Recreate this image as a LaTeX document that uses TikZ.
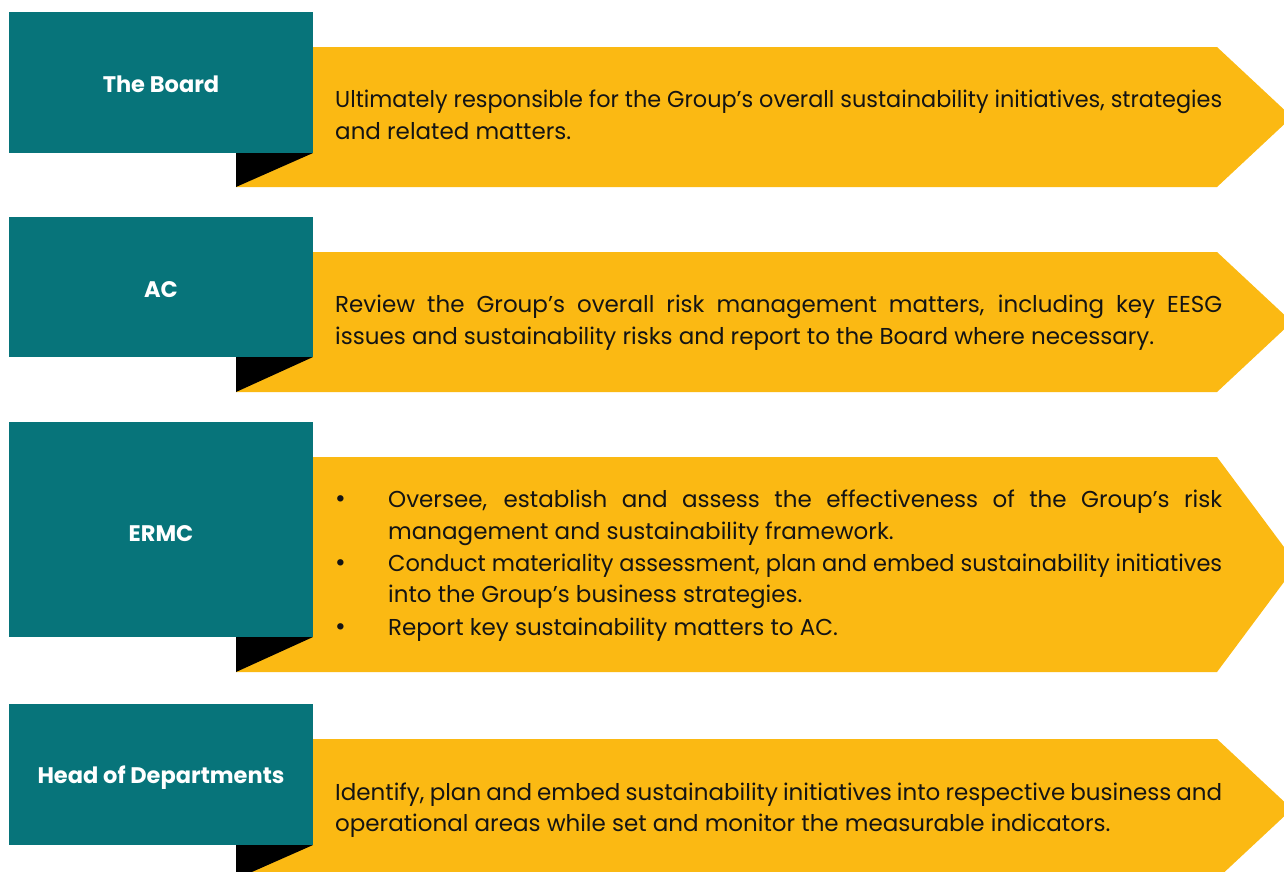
\documentclass[tikz,border=0pt]{standalone}
\usepackage{graphicx}
\usepackage{fontspec}
\setmainfont{Poppins}
\definecolor{teal1}{HTML}{07747A}
\definecolor{gold1}{HTML}{FBB913}
\definecolor{ink}{HTML}{141414}
\begin{document}
\begin{tikzpicture}[x=1pt,y=-1pt,
  headbox/.style={fill=teal1, draw=none, inner sep=0pt, minimum width=304pt},
  headtext/.style={anchor=base, inner sep=0pt, text=white, font=\bfseries\fontsize{22.5}{26}\selectfont},
  body/.style={anchor=base west, inner sep=0pt, text=ink, font=\fontsize{23}{32}\selectfont},
  bullet/.style={anchor=base west, inner sep=0pt, text=ink, font=\fontsize{26}{32}\selectfont},
  chev/.style={fill=gold1, draw=none},
  fold/.style={fill=black, draw=none},
]
\useasboundingbox (0,0) rectangle (1284,871);
\clip (0,0) rectangle (1284,871);

% ---------- Row 1 ----------
\fill[chev] (236,47) -- (1217,47) -- (1292,117) -- (1217,187) -- (236,187) -- cycle;
\fill[fold] (236,153) -- (313,153) -- (236,187) -- cycle;
\node[headbox, minimum height=141pt] (board) at (161,82.5) {};
\node[headtext] (boardlbl) at (161,92) {The Board};
\node[body] (t1a) at (335,107) {\resizebox{887pt}{\height}{Ultimately responsible for the Group’s overall sustainability initiatives, strategies}};
\node[body] (t1b) at (335,139) {and related matters.};

% ---------- Row 2 ----------
\fill[chev] (236,252) -- (1217,252) -- (1292,322) -- (1217,392) -- (236,392) -- cycle;
\fill[fold] (236,357) -- (313,357) -- (236,392) -- cycle;
\node[headbox, minimum height=140pt] (ac) at (161,287) {};
\node[headtext] (aclbl) at (161,297) {AC};
\node[body] (t2a) at (335,312) {\makebox[887pt][s]{Review the Group’s overall risk management matters, including key EESG}};
\node[body] (t2b) at (335,344) {issues and sustainability risks and report to the Board where necessary.};

% ---------- Row 3 ----------
\fill[chev] (236,457) -- (1217,457) -- (1297,564.5) -- (1217,672) -- (236,672) -- cycle;
\fill[fold] (236,637) -- (313,637) -- (236,672) -- cycle;
\node[headbox, minimum height=215pt] (ermc) at (161,529.5) {};
\node[headtext] (ermclbl) at (161,541) {ERMC};
\node[bullet] (b1) at (335,507) {•};
\node[body] (t3a) at (388,507) {\makebox[834pt][s]{Oversee, establish and assess the effectiveness of the Group’s risk}};
\node[body] (t3b) at (388,539) {management and sustainability framework.};
\node[bullet] (b2) at (335,571) {•};
\node[body] (t3c) at (388,571) {\resizebox{834pt}{\height}{Conduct materiality assessment, plan and embed sustainability initiatives}};
\node[body] (t3d) at (388,602) {into the Group’s business strategies.};
\node[bullet] (b3) at (335,635) {•};
\node[body] (t3e) at (388,635) {Report key sustainability matters to AC.};

% ---------- Row 4 ----------
\fill[chev] (236,739) -- (1217,739) -- (1292,809) -- (1217,879) -- (236,879) -- cycle;
\fill[fold] (236,845) -- (313,845) -- (236,879) -- cycle;
\node[headbox, minimum height=141pt] (hod) at (161,774.5) {};
\node[headtext] (hodlbl) at (161,783) {Head of Departments};
\node[body] (t4a) at (335,800) {\makebox[887pt][s]{Identify, plan and embed sustainability initiatives into respective business and}};
\node[body] (t4b) at (335,831) {operational areas while set and monitor the measurable indicators.};
\end{tikzpicture}
\end{document}
